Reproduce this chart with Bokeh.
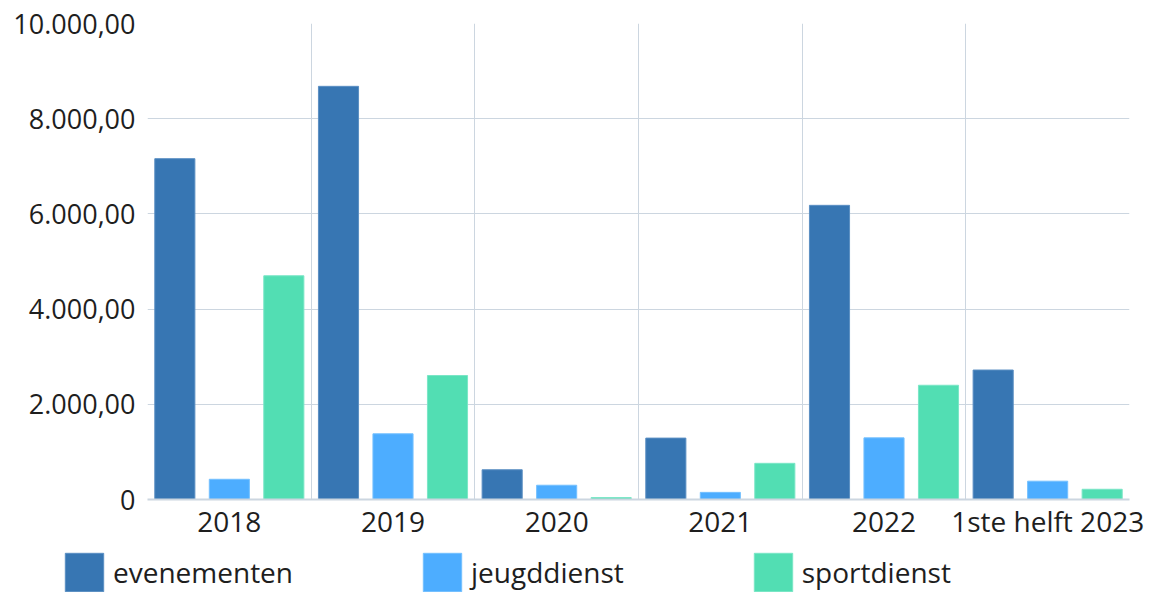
import numpy as np
from bokeh.plotting import figure
from bokeh.layouts import column
from bokeh.models import (ColumnDataSource, Range1d, FixedTicker, CustomJSTickFormatter,
                          Legend, LegendItem)
from bokeh.embed import file_html
from bokeh.resources import INLINE

# ---- data ----
categories = ["2018", "2019", "2020", "2021", "2022", "1ste helft 2023"]
series_names = ["evenementen", "jeugddienst", "sportdienst"]
evenementen = [7160, 8680, 625, 1290, 6180, 2720]
jeugddienst = [425, 1380, 300, 150, 1295, 385]
sportdienst = [4700, 2605, 40, 760, 2400, 215]
y_ticks = [0, 2000, 4000, 6000, 8000, 10000]

colors = ["#3776b3", "#4dadff", "#52deb3"]
edge_colors = ["#5b8fc3", "#74c0ff", "#7ae6c6"]
FONT = "Open Sans"
TEXT = "#1e1e1e"
GRID = "#ccd6e0"

n = len(categories)
centers = np.arange(n) + 0.5
offsets = [-0.333, 0.0, 0.333]
bar_w = 0.245
series = [evenementen, jeugddienst, sportdienst]

p = figure(width=1154, height=548, x_range=Range1d(0, n), y_range=Range1d(0, 10000),
           output_backend="svg", toolbar_location=None,
           min_border_left=147, min_border_right=25, min_border_top=23, min_border_bottom=49)
p.outline_line_color = None
p.background_fill_color = "white"
p.border_fill_color = "white"

for name, vals, off, c, ec in zip(series_names, series, offsets, colors, edge_colors):
    src = ColumnDataSource(dict(x=centers + off, top=vals))
    p.vbar(x="x", top="top", width=bar_w, bottom=0, source=src,
           fill_color=c, line_color=ec, line_width=1)

# axes
p.xaxis.ticker = FixedTicker(ticks=list(centers))
p.xaxis.formatter = CustomJSTickFormatter(args=dict(cats=categories),
                                          code="return cats[Math.floor(tick)];")
p.yaxis.ticker = FixedTicker(ticks=y_ticks)
p.yaxis.formatter = CustomJSTickFormatter(code="""
if (Math.abs(tick) < 1e-9) return "0";
const s = Math.round(tick).toString().replace(/\\B(?=(\\d{3})+(?!\\d))/g, ".");
return s + ",00";
""")
for ax in (p.xaxis[0], p.yaxis[0]):
    ax.major_tick_line_color = None
    ax.minor_tick_line_color = None
    ax.major_tick_out = 0
    ax.major_tick_in = 0
    ax.major_label_text_font = FONT
    ax.major_label_text_color = TEXT
p.yaxis.major_label_text_font_size = "27px"
p.xaxis.major_label_text_font_size = "28px"
p.yaxis.axis_line_color = None
p.yaxis.major_label_standoff = 12
p.xaxis.axis_line_color = GRID
p.xaxis.axis_line_width = 2
p.xaxis.major_label_standoff = 2

# grids
p.xgrid.ticker = FixedTicker(ticks=list(range(n)))
p.xgrid.grid_line_color = GRID
p.ygrid.ticker = FixedTicker(ticks=y_ticks)
p.ygrid.grid_line_color = GRID

# legend strip below the chart (proxy glyphs sit outside the visible range)
lg = figure(width=1154, height=44, x_range=Range1d(0, 1), y_range=Range1d(0, 1),
            output_backend="svg", toolbar_location=None, x_axis_type=None, y_axis_type=None,
            min_border=0)
lg.outline_line_color = None
lg.grid.visible = False
leg_x = 60
try:
    lg.frame_align = False
except AttributeError:
    leg_x = 60 - 147
items = []
for name, c, ec in zip(series_names, colors, edge_colors):
    r = lg.vbar(x=[-5], top=[0], width=0.1, fill_color=c, line_color=ec, line_width=1)
    items.append(LegendItem(label=name, renderers=[r]))
legend = Legend(items=items, orientation="horizontal", location=(leg_x, -4),
                glyph_width=48, glyph_height=48, label_standoff=5, spacing=125,
                padding=0, margin=0, border_line_color=None, background_fill_alpha=0,
                label_text_font=FONT, label_text_font_size="28px", label_text_color=TEXT,
                label_height=48)
lg.add_layout(legend)

layout = column(p, lg, spacing=0)
open("out.html", "w").write(file_html(layout, INLINE))
